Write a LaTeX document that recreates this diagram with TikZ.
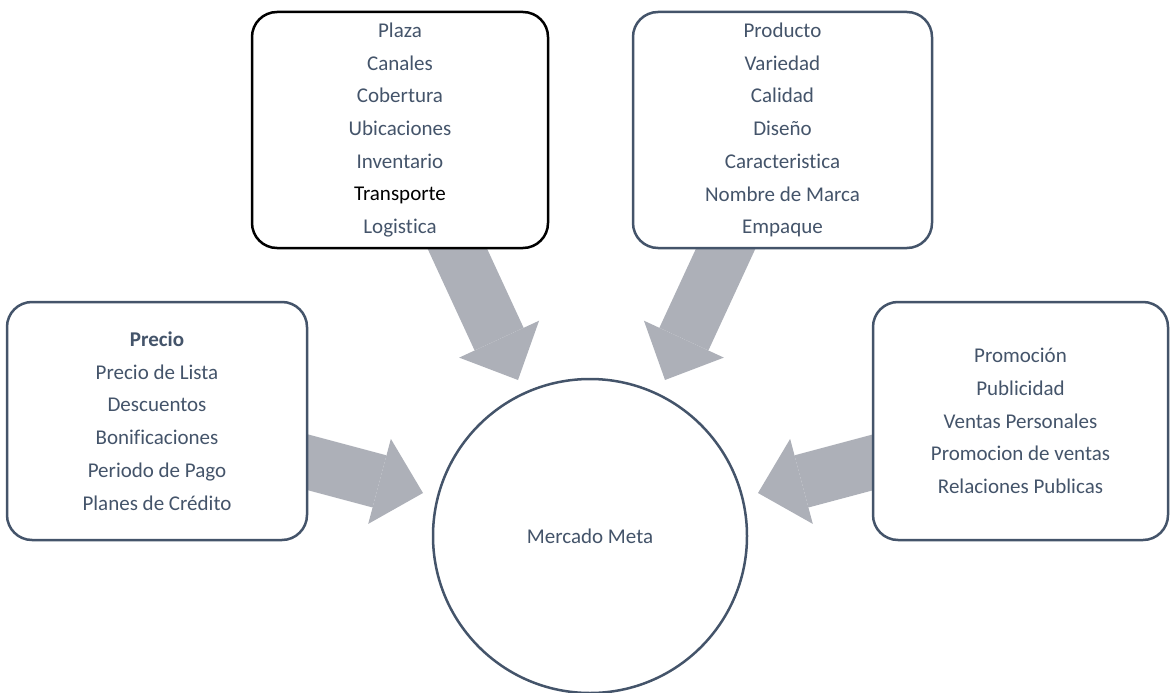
\documentclass[tikz,border=0pt]{standalone}
\usepackage{fontspec}
\setmainfont[RawFeature={-liga;-clig;-calt;-dlig}]{Carlito}
\usetikzlibrary{arrows.meta,backgrounds}
\definecolor{slate}{HTML}{44546A}
\definecolor{arrowgray}{RGB}{173,176,184}
\begin{document}
\begin{tikzpicture}[x=1pt,y=-1pt,
  mixbox/.style={draw=slate, line width=2.5pt, rounded corners=25pt, fill=white,
    align=center, text=slate, font=\fontsize{21}{32.7}\selectfont, inner sep=0pt},
  target/.style={circle, draw=slate, line width=2.5pt, fill=white, text=slate,
    font=\fontsize{21}{26}\selectfont, minimum size=314pt, inner sep=0pt},
  flow/.style={draw=arrowgray, line width=54pt, line cap=butt,
    -{Triangle[length=45pt,width=88pt,line width=0pt]}}]
\useasboundingbox (0,0) rectangle (1170,693);

% the four marketing-mix boxes
\node[mixbox, draw=black, minimum width=296pt, minimum height=236pt] (plaza) at (400,130)
  {Plaza\\Canales\\Cobertura\\Ubicaciones\\Inventario\\\textcolor{black}{Transporte}\\Logistica};
\node[mixbox, minimum width=299pt, minimum height=236pt] (producto) at (782.5,130)
  {Producto\\Variedad\\Calidad\\Diseño\\Caracteristica\\Nombre de Marca\\Empaque};
\node[mixbox, minimum width=300pt, minimum height=238pt] (precio) at (157,421)
  {\textbf{Precio}\\Precio de Lista\\Descuentos\\Bonificaciones\\Periodo de Pago\\Planes de Crédito};
\node[mixbox, minimum width=295pt, minimum height=238pt] (promocion) at (1020.5,421)
  {Promoción\\Publicidad\\Ventas Personales\\Promocion de ventas\\Relaciones Publicas};

% the target market
\node[target] (meta) at (590,536) {Mercado Meta};

% block arrows, tucked behind the boxes
\coordinate (plazaout) at (451,235);
\coordinate (plazain) at (518,380);
\coordinate (productoout) at (732,235);
\coordinate (productoin) at (665,380);
\coordinate (preciout) at (288,457);
\coordinate (precioin) at (423,493);
\coordinate (promout) at (893,457);
\coordinate (promin) at (758,493);
\begin{scope}[on background layer]
  \draw[flow] (plazaout) -- (plazain);
  \draw[flow] (productoout) -- (productoin);
  \draw[flow] (preciout) -- (precioin);
  \draw[flow] (promout) -- (promin);
\end{scope}
\end{tikzpicture}
\end{document}
